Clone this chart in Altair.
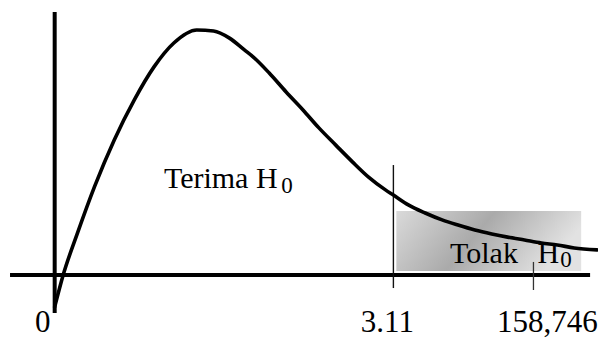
import altair as alt
import pandas as pd

# Curve (schematic units: x = F position, y = relative density)
curve_x = [0.0, 0.078, 0.210, 0.365, 0.547, 0.730, 0.912, 1.094, 1.304, 1.459, 1.605,
           1.742, 1.824, 1.970, 2.125, 2.280, 2.426, 2.581, 2.736, 2.882, 3.037, 3.110,
           3.247, 3.402, 3.557, 3.703, 3.858, 4.013, 4.159, 4.314, 4.469, 4.615, 4.770, 4.979]
curve_y = [-0.130, 0.0, 0.171, 0.358, 0.549, 0.711, 0.846, 0.943, 0.996, 0.992, 0.963,
           0.915, 0.886, 0.821, 0.744, 0.671, 0.598, 0.528, 0.459, 0.398, 0.346, 0.325,
           0.285, 0.252, 0.224, 0.203, 0.183, 0.167, 0.154, 0.142, 0.130, 0.122, 0.110, 0.102]

# Axes (segments)
axis_x = [0.0, -0.41]
axis_x2 = [0.0, 4.916]
axis_y = [-0.154, 0.0]
axis_y2 = [1.069, 0.0]

# Critical value line and the computed-F tick
crit_x = [3.11]
crit_y = [-0.053]
crit_y2 = [0.447]
tick_x = [4.396]
tick_y = [-0.061]
tick_y2 = [0.053]

# Rejection region box
rej_x = [3.137]
rej_x2 = [4.834]
rej_y = [0.016]
rej_y2 = [0.260]

# Tick labels
tick_labels = ["0", "3.11", "158,746"]
tick_label_x = [-0.109, 3.055, 4.523]
tick_label_y = [-0.232, -0.232, -0.232]

# Region labels
region_text = ["Terima H", "Tolak", "H"]
region_x = [1.003, 3.630, 4.432]
region_y = [0.354, 0.049, 0.049]
sub_text = ["0", "0"]
sub_x = [2.080, 4.642]
sub_y = [0.333, 0.033]

XD = [-0.4286, 4.9886]
YD = [-0.2602, 1.0854]
xs = alt.Scale(domain=XD, nice=False, zero=False)
ys = alt.Scale(domain=YD, nice=False, zero=False)
FONT = "'Liberation Serif', 'Times New Roman', serif"

curve_df = pd.DataFrame({"x": curve_x, "y": curve_y})
axes_df = pd.DataFrame({"x": axis_x, "x2": axis_x2, "y": axis_y, "y2": axis_y2})
crit_df = pd.DataFrame({"x": crit_x, "y": crit_y, "y2": crit_y2})
tick_df = pd.DataFrame({"x": tick_x, "y": tick_y, "y2": tick_y2})
rej_df = pd.DataFrame({"x": rej_x, "x2": rej_x2, "y": rej_y, "y2": rej_y2})
tl_df = pd.DataFrame({"t": tick_labels, "x": tick_label_x, "y": tick_label_y})
rt_df = pd.DataFrame({"t": region_text, "x": region_x, "y": region_y})
st_df = pd.DataFrame({"t": sub_text, "x": sub_x, "y": sub_y})

X = lambda f="x": alt.X(f"{f}:Q", scale=xs, axis=None)
Y = lambda f="y": alt.Y(f"{f}:Q", scale=ys, axis=None)

grad = alt.Gradient(
    gradient="linear",
    stops=[
        alt.GradientStop(offset=0, color="#dadada"),
        alt.GradientStop(offset=0.5, color="#aaaaaa"),
        alt.GradientStop(offset=1, color="#e2e2e2"),
    ],
    x1=0, y1=0, x2=1, y2=0.27,
)

rej = alt.Chart(rej_df).mark_rect(fill=grad).encode(
    x=X(), x2="x2:Q", y=Y(), y2="y2:Q")

axes = alt.Chart(axes_df).mark_rule(color="black", strokeWidth=4).encode(
    x=X(), x2="x2:Q", y=Y(), y2="y2:Q")

crit = alt.Chart(crit_df).mark_rule(color="#111", strokeWidth=1.4).encode(
    x=X(), y=Y(), y2="y2:Q")

tick = alt.Chart(tick_df).mark_rule(color="#333", strokeWidth=1.3).encode(
    x=X(), y=Y(), y2="y2:Q")

curve = alt.Chart(curve_df).mark_line(
    color="black", strokeWidth=3.6, interpolate="monotone", strokeCap="round"
).encode(x=X(), y=Y(), order="x:Q")

tl = alt.Chart(tl_df).mark_text(
    font=FONT, fontSize=31, align="center", baseline="alphabetic", color="black"
).encode(x=X(), y=Y(), text="t:N")

rt = alt.Chart(rt_df).mark_text(
    font=FONT, fontSize=30, align="left", baseline="alphabetic", color="black"
).encode(x=X(), y=Y(), text="t:N")

st = alt.Chart(st_df).mark_text(
    font=FONT, fontSize=23, align="left", baseline="alphabetic", color="black"
).encode(x=X(), y=Y(), text="t:N")

chart = alt.layer(rej, axes, crit, tick, curve, tl, rt, st).properties(
    width=590, height=331,
    autosize=alt.AutoSizeParams(type="none"),
    padding=0,
).configure_view(strokeWidth=0)

chart.save("out.html", embed_options={"renderer": "svg", "actions": False})
